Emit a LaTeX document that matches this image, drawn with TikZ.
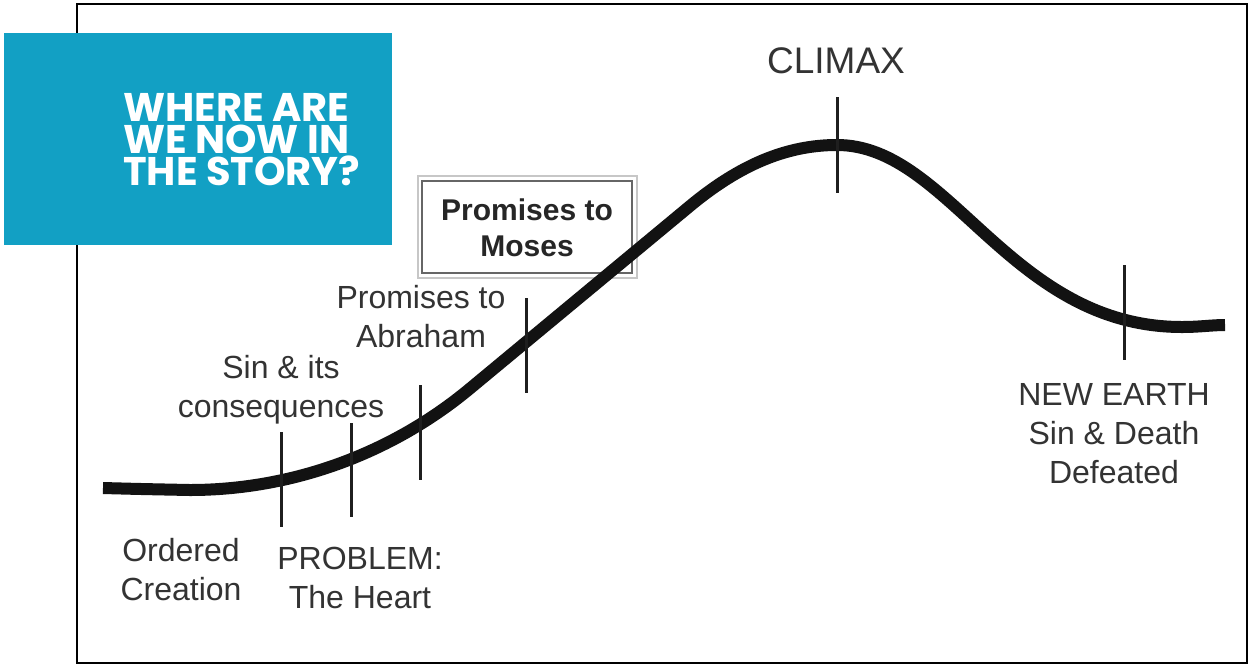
\documentclass[tikz,border=0pt]{standalone}
\usepackage{fontspec}
\setmainfont{Liberation Sans}
\newfontfamily\titlefont{Poppins}
\definecolor{teal}{HTML}{12A0C4}
\definecolor{ink}{HTML}{333333}
\begin{document}
\begin{tikzpicture}[x=1pt,y=-1pt,
  lbl/.style={text=ink, align=center, font=\fontsize{32}{39}\selectfont, inner sep=0pt, anchor=north},
  ticker/.style={line width=3pt, draw=black!88},
  arc/.style={line width=12pt, draw=black!93, line cap=butt},
  headline/.style={text=white, align=left, inner sep=0pt, anchor=north west,
    font=\titlefont\bfseries\fontsize{40}{32}\selectfont},
  boxed/.style={draw=black!60, line width=1.6pt, minimum width=210pt, minimum height=92pt, inner sep=0pt}]
\useasboundingbox (0,0) rectangle (1249,665);
\fill[white] (0,0) rectangle (1249,665);
% frame
\draw[line width=2pt, black] (77,4) rectangle (1247,663);
% Promises to Moses box (drawn beneath the curve)
\draw[black!22, line width=1.5pt] (418,176) rectangle (637,278);
\node[boxed] (moses) at (527,227) {};
% curve
\coordinate (c0) at (103,488);
\coordinate (c1) at (190,490);
\coordinate (c2) at (470,388.5);
\coordinate (c3) at (690,206);
\coordinate (c4) at (837,145);
\coordinate (c5) at (1182,327);
\coordinate (c6) at (1225,325);
\draw[arc] (c0) .. controls (140,489) .. (c1)
  .. controls (290,490) and (390,455) .. (c2)
  -- (c3)
  .. controls (740,164.5) and (787,145) .. (c4)
  .. controls (950,145) and (1010,327) .. (c5)
  .. controls (1200,327) and (1212,325) .. (c6);
% ticks
\coordinate (t1a) at (281,432); \coordinate (t1b) at (281,527);
\coordinate (t2a) at (351,423); \coordinate (t2b) at (351,517);
\coordinate (t3a) at (420,385); \coordinate (t3b) at (420,480);
\coordinate (t4a) at (526,298); \coordinate (t4b) at (526,393);
\coordinate (t5a) at (837,97);  \coordinate (t5b) at (837,193);
\coordinate (t6a) at (1124,265); \coordinate (t6b) at (1124,360);
\draw[ticker] (t1a) -- (t1b);
\draw[ticker] (t2a) -- (t2b);
\draw[ticker] (t3a) -- (t3b);
\draw[ticker] (t4a) -- (t4b);
\draw[ticker] (t5a) -- (t5b);
\draw[ticker] (t6a) -- (t6b);
% labels
\node[lbl] (ordered) at (181,538) {Ordered\\Creation};
\node[lbl] (problem) at (360,547) {PROBLEM:\\The Heart};
\node[lbl] (sin) at (281,355) {Sin \& its\\consequences};
\node[lbl] (abraham) at (421,285) {Promises to\\Abraham};
\node[lbl, font=\fontsize{37}{43}\selectfont] (climax) at (836,47) {CLIMAX};
\node[lbl] (newearth) at (1114,383) {NEW EARTH\\Sin \& Death\\Defeated};
\node[lbl, font=\bfseries\fontsize{30}{36}\selectfont, text=black!85] (mosestext) at (527,199) {Promises to\\Moses};
% title panel
\fill[teal] (4,33) rectangle (392,245);
\node[headline] (title) at (123,93) {WHERE ARE\\WE NOW IN\\THE STORY?};
\end{tikzpicture}
\end{document}
